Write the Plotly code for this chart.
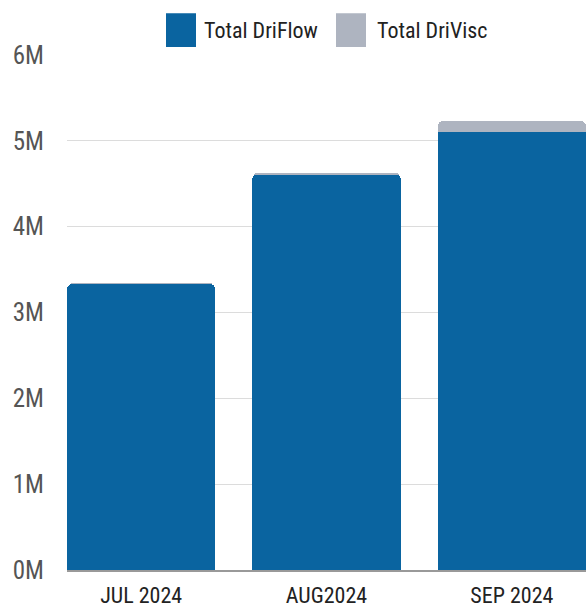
import plotly.graph_objects as go

months = ["JUL 2024", "AUG2024", "SEP 2024"]
driflow = [3.336e6, 4.602e6, 5.108e6]
drivisc = [0.001e6, 0.028e6, 0.128e6]
series_names = ["Total DriFlow", "Total DriVisc"]
series_colors = ["#0a64a0", "#aeb4c0"]
y_tick_vals = [0, 1e6, 2e6, 3e6, 4e6, 5e6, 6e6]
y_tick_text = ["0M", "1M", "2M", "3M", "4M", "5M", "6M"]

FONT = "Roboto Condensed, DejaVu Sans Condensed, sans-serif"

fig = go.Figure()
for name, vals, col in zip(series_names, [driflow, drivisc], series_colors):
    fig.add_trace(go.Bar(name=name, x=months, y=vals, marker_color=col,
                         marker_line_width=0))

# custom legend (paper coords) with large square swatches
W, H, L, T = 586, 608, 67, 55
pw, ph = W - L, 608 - 35 - T
def px(xp):
    return (xp - L) / pw
def py(yp):
    return (H - 35 - yp) / ph

legend_x = [(166, 202), (336, 375)]
for (sx, tx), name, col in zip(legend_x, series_names, series_colors):
    fig.add_shape(type="rect", xref="paper", yref="paper",
                  x0=px(sx), x1=px(sx + 30), y0=py(47), y1=py(13),
                  fillcolor=col, line_width=0)
    fig.add_annotation(text=name, xref="paper", yref="paper", x=px(tx), y=py(30),
                       xanchor="left", yanchor="middle", showarrow=False,
                       font=dict(family=FONT, size=22, color="#222"))

fig.update_layout(
    width=W, height=H,
    barmode="stack", bargap=0.2, barcornerradius=6,
    margin=dict(l=L, r=0, t=T, b=35),
    plot_bgcolor="white", paper_bgcolor="white",
    font=dict(family=FONT, size=22, color="#222"),
    showlegend=False,
    xaxis=dict(range=[-0.4, 2.4], showgrid=False, showline=True, linecolor="#999",
               linewidth=2, tickfont=dict(size=22, color="#222"), ticks="",
               ticklabelstandoff=5),
    yaxis=dict(range=[0, 6e6], tickvals=y_tick_vals, ticktext=y_tick_text,
               showgrid=True, gridcolor="#dcdcdc", gridwidth=1, zeroline=False,
               tickfont=dict(size=25, color="#555"), ticks="", ticklabelstandoff=22),
)

fig.write_html("out.html", config={"displayModeBar": False},
               post_script="document.body.style.margin='0';")
